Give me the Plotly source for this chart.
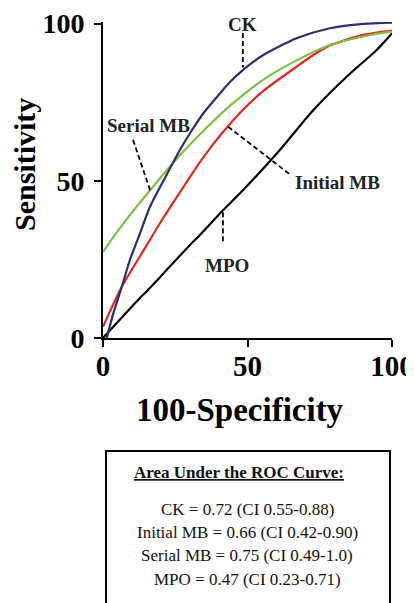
import plotly.graph_objects as go

# Data (x = 100-Specificity, y = Sensitivity)
ck_x = [1.3, 3.6, 6.5, 9.3, 12.8, 16.3, 21.5, 26.6, 30.7, 35, 40, 44, 48.5, 55.5, 67, 78.5, 90, 100]
ck_y = [0, 7.9, 16.3, 24.8, 33.3, 41.8, 51, 59.8, 66, 71.8, 77.3, 81.5, 85.3, 90, 95.3, 98.5, 99.9, 100.3]

init_x = [0, 6.5, 12.8, 19.7, 26.6, 33.6, 38, 41.6, 48, 55.5, 67, 72.8, 78.5, 90, 100]
init_y = [3.6, 16.3, 26, 36.5, 46.3, 56, 61.5, 65.6, 72.2, 78.6, 86.3, 90, 93, 96.4, 97.8]

serial_x = [0, 4.7, 10.5, 16.3, 22, 27.8, 35.3, 43.9, 55.5, 67, 78.5, 90, 100]
serial_y = [27.4, 33.5, 40.5, 47, 53.3, 59.3, 66.4, 73.8, 82.2, 88.3, 93.2, 95.9, 97.5]

mpo_x = [0, 10.5, 16.3, 22, 30.1, 33.6, 41.6, 47.4, 61.2, 72.8, 84.3, 94.7, 100]
mpo_y = [0, 10.5, 16, 21.6, 29.6, 32.8, 40.7, 46, 59.8, 72.5, 83.1, 91.6, 96.9]

tick_vals = [0, 50, 100]
tick_text = ["0", "50", "100"]

x_title = "100-Specificity"
y_title = "Sensitivity"

auc_title = "Area Under the ROC Curve:"
auc_lines = [
    "CK = 0.72 (CI 0.55-0.88)",
    "Initial MB = 0.66 (CI 0.42-0.90)",
    "Serial MB = 0.75 (CI 0.49-1.0)",
    "MPO = 0.47 (CI 0.23-0.71)",
]

# Label annotations: (text, label x, label y, leader from (x0,y0) to (x1,y1))
labels = [
    ("CK", 48.4, 99.6, 48.4, 97, 48.4, 86),
    ("Serial MB", 15.9, 67.7, 10.4, 63, 16.3, 47),
    ("Initial MB", 81, 49.3, 43.3, 67.2, 64.7, 52),
    ("MPO", 42.9, 23.2, 41.5, 40, 41.5, 30),
]

SERIF = "Liberation Serif"
BODY_OFFSET = 8  # default page margin around the plot div

fig = go.Figure()
series = [
    (mpo_x, mpo_y, "#000000", "MPO"),
    (init_x, init_y, "#E8261E", "Initial MB"),
    (serial_x, serial_y, "#7BC142", "Serial MB"),
    (ck_x, ck_y, "#2B2F6E", "CK"),
]
for xs, ys, col, name in series:
    fig.add_trace(go.Scatter(x=xs, y=ys, mode="lines", name=name,
                             line=dict(color=col, width=2.2, shape="spline", smoothing=0.7),
                             showlegend=False, hoverinfo="skip"))

for text, lx, ly, x0, y0, x1, y1 in labels:
    fig.add_shape(type="line", x0=x0, y0=y0, x1=x1, y1=y1, xref="x", yref="y",
                  line=dict(color="black", width=1.8, dash="5px,3px"))
    fig.add_annotation(x=lx, y=ly, xref="x", yref="y", text=text,
                       showarrow=False, xanchor="center", yanchor="middle",
                       font=dict(family=SERIF, size=19, color="#222222", weight="bold"))

# plot area spans screen px 103..392 horizontally, 22..338 vertically
PL, PR, PT, PB = 103, 392, 22, 338

def px2paper_x(px):
    return (px - PL) / float(PR - PL)

def py2paper_y(py):
    return (PB - py) / float(PB - PT)

# axis titles
fig.add_annotation(xref="paper", yref="paper", x=px2paper_x(240), y=py2paper_y(410),
                   text=x_title, showarrow=False, xanchor="center", yanchor="middle",
                   font=dict(family=SERIF, size=33, color="black", weight="bold"))
fig.add_annotation(xref="paper", yref="paper", x=px2paper_x(25), y=py2paper_y(164),
                   text=y_title, showarrow=False, textangle=-90,
                   xanchor="center", yanchor="middle",
                   font=dict(family=SERIF, size=30, color="black", weight="bold"))

# AUC box
fig.add_shape(type="rect", xref="paper", yref="paper",
              x0=px2paper_x(106), x1=px2paper_x(390),
              y0=py2paper_y(640), y1=py2paper_y(451),
              line=dict(color="black", width=2), fillcolor="white", layer="above")

fig.add_annotation(xref="paper", yref="paper", x=px2paper_x(239), y=py2paper_y(472),
                   text="<u>%s</u>" % auc_title, showarrow=False,
                   xanchor="center", yanchor="middle",
                   font=dict(family=SERIF, size=17, color="#111111", weight="bold"))
for i, line in enumerate(auc_lines):
    fig.add_annotation(xref="paper", yref="paper", x=px2paper_x(247),
                       y=py2paper_y(509 + i * 23.4), text=line, showarrow=False,
                       xanchor="center", yanchor="middle",
                       font=dict(family=SERIF, size=17, color="#111111"))

axis_common = dict(
    tickvals=tick_vals, ticktext=tick_text, automargin=False,
    showgrid=False, zeroline=False, showline=True, linecolor="black", linewidth=2,
    ticks="outside", ticklen=7, tickwidth=2, tickcolor="black",
    ticklabeloverflow="allow",
)

W, H = 414, 603
fig.update_layout(
    width=W, height=H,
    margin=dict(l=PL - BODY_OFFSET, r=W - (PR - BODY_OFFSET), t=PT - BODY_OFFSET,
                b=H - (PB - BODY_OFFSET)),
    paper_bgcolor="white", plot_bgcolor="white",
    font=dict(family=SERIF, color="black"),
    xaxis=dict(range=[0, 100], ticklabelstandoff=-6,
               tickfont=dict(family=SERIF, size=29, color="black", weight="bold"),
               **axis_common),
    yaxis=dict(range=[0, 100.5], ticklabelstandoff=4,
               tickfont=dict(family=SERIF, size=28, color="black", weight="bold"),
               **axis_common),
)

fig.write_html("out.html")
